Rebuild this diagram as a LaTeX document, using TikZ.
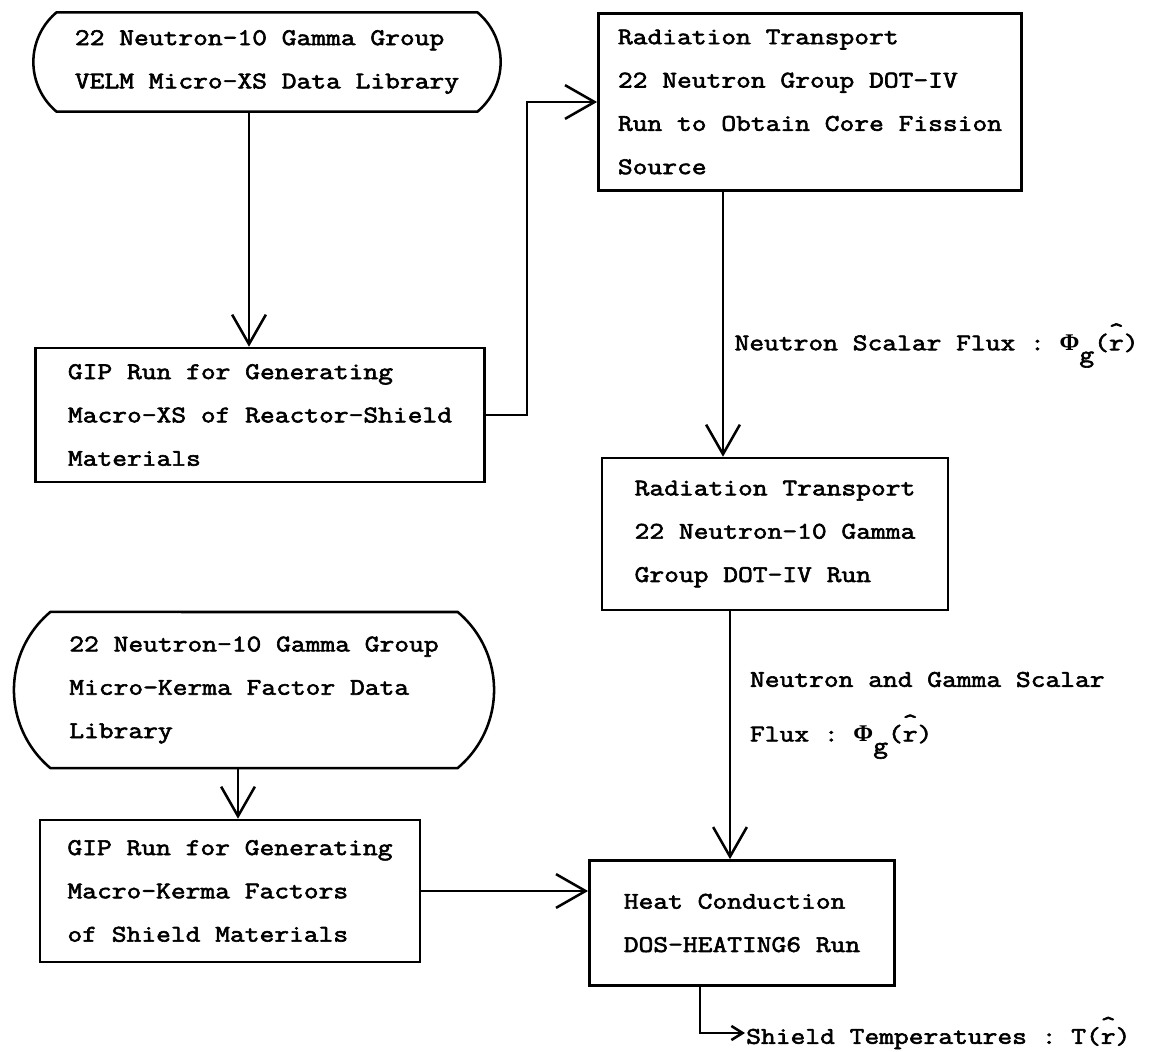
\documentclass[tikz,border=0pt]{standalone}
\usepackage{fontspec}
\setmonofont{Latin Modern Mono}[FakeBold=2.5, FakeStretch=1.2]
\newfontfamily\grkfont{Liberation Serif}
\usetikzlibrary{arrows.meta,shapes.misc}
\newcommand{\hatr}{\rlap{\raisebox{0.5em}{\textasciicircum}}r}
\newcommand{\phig}{{\grkfont\bfseries Φ}\raisebox{-0.5em}{g}(\hatr)}
\begin{document}
\begin{tikzpicture}[
    x=0.025cm, y=-0.025cm,
    line width=1.8pt,
    every node/.style={font=\ttfamily\fontsize{17}{30.8}\selectfont, align=left},
    box/.style={draw, rectangle, inner sep=0pt},
    libbox/.style={draw, rounded rectangle, rounded rectangle arc length=100, inner sep=0pt},
    arr/.style={-{Straight Barb[length=21pt, width=24pt]}},
    outarr/.style={-{Straight Barb[length=8pt, width=10pt]}}
]
\useasboundingbox (0,0) rectangle (1152,1052);
% data libraries and runs
\node[libbox, minimum width=11.68cm, minimum height=2.48cm] (vlib) at (267,62)
    {22 Neutron-10 Gamma Group\\VELM Micro-XS Data Library};
\node[box, minimum width=11.23cm, minimum height=3.35cm] (gipxs) at (260,415)
    {GIP Run for Generating\\Macro-XS of Reactor-Shield\\Materials};
\node[box, minimum width=10.58cm, minimum height=4.43cm] (dot1) at (810,102)
    {Radiation Transport\\22 Neutron Group DOT-IV\\Run to Obtain Core Fission\\Source};
\node[box, minimum width=8.65cm, minimum height=3.8cm] (dot2) at (775,534)
    {Radiation Transport\\22 Neutron-10 Gamma\\Group DOT-IV Run};
\node[libbox, minimum width=12.0cm, minimum height=3.9cm] (klib) at (254,690)
    {22 Neutron-10 Gamma Group\\Micro-Kerma Factor Data\\Library};
\node[box, minimum width=9.5cm, minimum height=3.55cm] (gipk) at (230,891)
    {GIP Run for Generating\\Macro-Kerma Factors\\of Shield Materials};
\node[box, minimum width=7.63cm, minimum height=3.13cm] (heat) at (742,923)
    {Heat Conduction\\DOS-HEATING6 Run};
\node[anchor=west, inner sep=0pt] (temp) at (745,1033)
    {Shield Temperatures : T(\hatr)};

% arrow columns
\coordinate (xa) at (249,0);
\coordinate (xb) at (723,0);
\coordinate (xc) at (730,0);
\coordinate (xd) at (238,0);
\coordinate (xe) at (700,0);

\draw[arr] (vlib.south -| xa) -- (gipxs.north -| xa);
\draw[arr] (gipxs.east) -- ++(41,0) |- (dot1.west);
\draw[arr] (dot1.south -| xb) -- node[right, pos=0.58, xshift=4pt]
    {Neutron Scalar Flux : \phig} (dot2.north -| xb);
\draw[arr] (dot2.south -| xc) -- node[right, pos=0.42, xshift=10pt]
    {Neutron and Gamma Scalar\\[8pt]Flux : \phig} (heat.north -| xc);
\draw[arr] (klib.south -| xd) -- (gipk.north -| xd);
\draw[arr] (gipk.east) -- (gipk.east -| heat.west);
\draw[outarr] (heat.south -| xe) |- (temp.west);
\end{tikzpicture}
\end{document}
